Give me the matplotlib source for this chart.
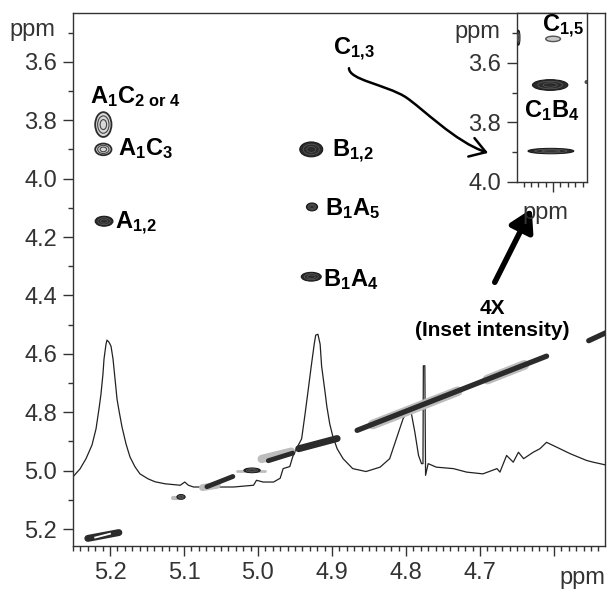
import matplotlib
matplotlib.use('Agg')
import matplotlib.pyplot as plt
from matplotlib.patches import Ellipse, FancyArrowPatch
from matplotlib.path import Path
from matplotlib.ticker import MultipleLocator

plt.rcParams['font.family'] = ['Liberation Sans', 'DejaVu Sans']
plt.rcParams['mathtext.fontset'] = 'custom'
plt.rcParams['mathtext.rm'] = 'Liberation Sans'
plt.rcParams['mathtext.bf'] = 'Liberation Sans:bold'
plt.rcParams['mathtext.it'] = 'Liberation Sans:italic'

# 1D projection drawn over the map (x in ppm, vertical position in ppm of F1)
trace_ppm = [5.250, 5.2405, 5.2324, 5.2243, 5.2189, 5.2149, 5.2122, 5.2095, 5.2081, 5.2054,
             5.2041, 5.2014, 5.1986, 5.1959, 5.1932, 5.1905, 5.1878, 5.1838, 5.1784, 5.173,
             5.1662, 5.1595, 5.1486, 5.1392, 5.1257, 5.105, 5.099, 5.094, 5.087, 5.051,
             5.033, 5.006, 5.002, 4.993, 4.979, 4.970, 4.966, 4.957, 4.953, 4.946,
             4.941, 4.936, 4.932, 4.928, 4.924, 4.922, 4.919, 4.916, 4.914, 4.909,
             4.907, 4.903, 4.899, 4.893, 4.885, 4.872, 4.854, 4.835, 4.822, 4.813,
             4.804, 4.797, 4.793, 4.788, 4.783, 4.779, 4.777, 4.7765, 4.7745, 4.7735,
             4.770, 4.759, 4.736, 4.718, 4.696, 4.677, 4.673, 4.664, 4.655, 4.648,
             4.641, 4.628, 4.619, 4.610, 4.596, 4.578, 4.556, 4.547, 4.538, 4.531]
trace_y = [5.021, 4.994, 4.959, 4.912, 4.857, 4.789, 4.738, 4.669, 4.618, 4.567,
           4.553, 4.560, 4.574, 4.618, 4.686, 4.755, 4.795, 4.850, 4.908, 4.953,
           4.987, 5.011, 5.028, 5.038, 5.045, 5.050, 5.039, 5.050, 5.056, 5.056,
           5.056, 5.050, 5.033, 5.039, 5.039, 5.026, 4.993, 4.986, 4.952, 4.915,
           4.891, 4.799, 4.721, 4.642, 4.567, 4.536, 4.533, 4.567, 4.642, 4.738,
           4.779, 4.840, 4.881, 4.925, 4.959, 4.993, 5.003, 4.988, 4.959, 4.891,
           4.823, 4.789, 4.800, 4.868, 4.948, 4.976, 4.976, 4.641, 4.641, 5.016,
           4.976, 4.988, 4.993, 5.005, 5.011, 4.993, 5.005, 4.948, 4.971, 4.937,
           4.959, 4.937, 4.925, 4.903, 4.920, 4.942, 4.965, 4.971, 4.976, 4.980]

# cross peaks: centre (F2, F1), widths in ppm, drawing style
cp_x = [5.209, 5.209, 5.208, 4.928, 4.927, 4.928, 5.008, 5.104]
cp_y = [3.815, 3.900, 4.146, 3.900, 4.097, 4.336, 4.999, 5.090]
cp_wx = [0.022, 0.022, 0.024, 0.031, 0.015, 0.027, 0.022, 0.011]
cp_wy = [0.085, 0.040, 0.034, 0.051, 0.027, 0.030, 0.016, 0.016]
cp_style = ['ring', 'ring', 'fill', 'fill', 'fill', 'fill', 'fill', 'fill']

# diagonal ridge pieces
dg_x0 = [4.866, 4.553, 4.986, 4.945, 5.069, 5.230]
dg_x1 = [4.610, 4.530, 4.953, 4.893, 5.034, 5.188]
dg_y0 = [4.862, 4.555, 4.966, 4.925, 5.055, 5.232]
dg_y1 = [4.608, 4.528, 4.940, 4.890, 5.020, 5.212]
dg_lw = [3.8, 3.8, 3.5, 5, 3.5, 5]
# light grey (negative) halos around the diagonal
hl_x0 = [4.845, 4.690, 4.995, 5.075, 5.115, 5.028]
hl_x1 = [4.730, 4.640, 4.955, 5.055, 5.108, 4.990]
hl_y0 = [4.842, 4.688, 4.960, 5.058, 5.092, 5.000]
hl_y1 = [4.728, 4.638, 4.935, 5.050, 5.092, 5.000]
hl_lw = [7, 7, 6, 5, 3, 2]

# inset (4X intensity) peaks
in_x = [5.400, 5.404, 5.403, 5.447, 5.355]
in_y = [3.519, 3.674, 3.896, 3.515, 3.664]
in_wx = [0.020, 0.048, 0.062, 0.004, 0.003]
in_wy = [0.018, 0.036, 0.018, 0.050, 0.008]
in_style = ['grey', 'fill', 'fill', 'fill', 'fill']

x_ticks = [5.2, 5.1, 5.0, 4.9, 4.8, 4.7, 4.6]
y_ticks = [3.6, 3.8, 4.0, 4.2, 4.4, 4.6, 4.8, 5.0, 5.2]
inset_y_ticks = [3.6, 3.8, 4.0]

dark = '#2b2b2b'
axis_col = '#333333'


def draw_peak(ax, x, y, wx, wy, style):
    if style == 'ring':
        ax.add_patch(Ellipse((x, y), wx, wy, fc='#d8d8d8', ec=dark, lw=1.3, zorder=4))
        for f in (0.7, 0.4):
            ax.add_patch(Ellipse((x, y), wx * f, wy * f, fc='none', ec='#444444', lw=0.8, zorder=4))
    elif style == 'grey':
        ax.add_patch(Ellipse((x, y), wx, wy, fc='#c8c8c8', ec='#555555', lw=1.0, zorder=4))
    else:
        ax.add_patch(Ellipse((x, y), wx, wy, fc=dark, ec='#1a1a1a', lw=0.8, zorder=4))
        for f in (0.7, 0.4):
            ax.add_patch(Ellipse((x, y), wx * f, wy * f, fc='none', ec='#5a5a5a', lw=0.5, zorder=4))


def style_axis(ax):
    for s in ax.spines.values():
        s.set_color(axis_col)
        s.set_linewidth(1.0)
    ax.tick_params(which='both', direction='out', colors=axis_col, labelcolor='#333333',
                   labelsize=17, width=1.0)
    ax.tick_params(which='major', length=7.5, pad=4)
    ax.tick_params(which='minor', length=3.5)


fig = plt.figure(figsize=(6.08, 5.91), dpi=100)
ax = fig.add_axes([73 / 608, 1 - 546 / 591, 532 / 608, 533 / 591])
ax.set_xlim(5.25, 4.531)
ax.set_ylim(5.258, 3.433)

ax.plot(trace_ppm, trace_y, color='#222222', lw=0.9, zorder=2)

for x0, x1, y0, y1, lw in zip(hl_x0, hl_x1, hl_y0, hl_y1, hl_lw):
    ax.plot([x0, x1], [y0, y1], color='#bdbdbd', lw=lw, solid_capstyle='round', zorder=3)
for x0, x1, y0, y1, lw in zip(dg_x0, dg_x1, dg_y0, dg_y1, dg_lw):
    ax.plot([x0, x1], [y0, y1], color=dark, lw=lw, solid_capstyle='round', zorder=3.5)
# open centre of the 5.2 diagonal contour
ax.plot([dg_x0[-1] - 0.01, dg_x1[-1] + 0.012], [dg_y0[-1] - 0.003, dg_y1[-1] + 0.004],
        color='white', lw=1.3, zorder=3.6)

for x, y, wx, wy, st in zip(cp_x, cp_y, cp_wx, cp_wy, cp_style):
    draw_peak(ax, x, y, wx, wy, st)

ax.set_xticks(x_ticks)
ax.set_xticklabels(['%.1f' % v if v > 4.65 else '' for v in x_ticks])
ax.xaxis.set_minor_locator(MultipleLocator(0.01))
ax.set_yticks(y_ticks)
ax.set_yticklabels(['%.1f' % v for v in y_ticks])
ax.yaxis.set_minor_locator(MultipleLocator(0.1))
style_axis(ax)

fig.text(55 / 608, 1 - 30 / 591, 'ppm', ha='right', va='center', fontsize=17, color='#333333')
fig.text(582 / 608, 1 - 578 / 591, 'ppm', ha='center', va='center', fontsize=17, color='#333333')

lab = dict(fontsize=17, color='black', ha='left', va='baseline', zorder=6)
ax.text(5.227, 3.741, r'$\mathbf{A_1C_{2\ or\ 4}}$', **lab)
ax.text(5.189, 3.918, r'$\mathbf{A_1C_3}$', **lab)
ax.text(5.193, 4.171, r'$\mathbf{A_{1{,}2}}$', **lab)
ax.text(4.900, 3.926, r'$\mathbf{B_{1{,}2}}$', **lab)
ax.text(4.909, 4.124, r'$\mathbf{B_1A_5}$', **lab)
ax.text(4.912, 4.369, r'$\mathbf{B_1A_4}$', **lab)
ax.text(4.899, 3.577, r'$\mathbf{C_{1{,}3}}$', **lab)

ax.text(4.683, 4.465, '4X', fontsize=15, fontweight='bold', ha='center', va='baseline')
ax.text(4.684, 4.54, '(Inset intensity)', fontsize=15, fontweight='bold', ha='center', va='baseline')

# curved pointer from C1,3 to the inset peak (two cubic bezier pieces)
curve_x = [4.877, 4.877, 4.828, 4.801, 4.778, 4.734, 4.689]
curve_y = [3.622, 3.662, 3.678, 3.720, 3.758, 3.874, 3.912]
curve_codes = [Path.MOVETO] + [Path.CURVE4] * 6
ax.add_patch(FancyArrowPatch(path=Path(list(zip(curve_x, curve_y)), curve_codes),
                             arrowstyle='->,head_length=0.55,head_width=0.35',
                             mutation_scale=20, lw=1.8, color='black', zorder=6))
ax.annotate('', xy=(4.630, 4.103), xytext=(4.680, 4.355),
            arrowprops=dict(arrowstyle='-|>,head_length=0.6,head_width=0.35', lw=4,
                            color='black', mutation_scale=22, shrinkA=0, shrinkB=0),
            zorder=6)

# inset
ax2 = fig.add_axes([517 / 608, 1 - 182 / 591, 70 / 608, 169 / 591])
ax2.set_xlim(5.449, 5.354)
ax2.set_ylim(4.0, 3.432)
for x, y, wx, wy, st in zip(in_x, in_y, in_wx, in_wy, in_style):
    draw_peak(ax2, x, y, wx, wy, st)
ax2.set_xticks([5.4])
ax2.set_xticklabels([''])
ax2.xaxis.set_minor_locator(MultipleLocator(0.01))
ax2.set_yticks(inset_y_ticks)
ax2.set_yticklabels(['%.1f' % v for v in inset_y_ticks])
ax2.yaxis.set_minor_locator(MultipleLocator(0.1))
style_axis(ax2)
ax2.text(5.415, 3.496, r'$\mathbf{C_{1{,}5}}$', **lab)
ax2.text(5.440, 3.781, r'$\mathbf{C_1B_4}$', **lab)
fig.text(500 / 608, 1 - 32 / 591, 'ppm', ha='right', va='center', fontsize=17, color='#333333')
fig.text(545 / 608, 1 - 213 / 591, 'ppm', ha='center', va='center', fontsize=17, color='#333333')

fig.savefig('out.png', dpi=100)
